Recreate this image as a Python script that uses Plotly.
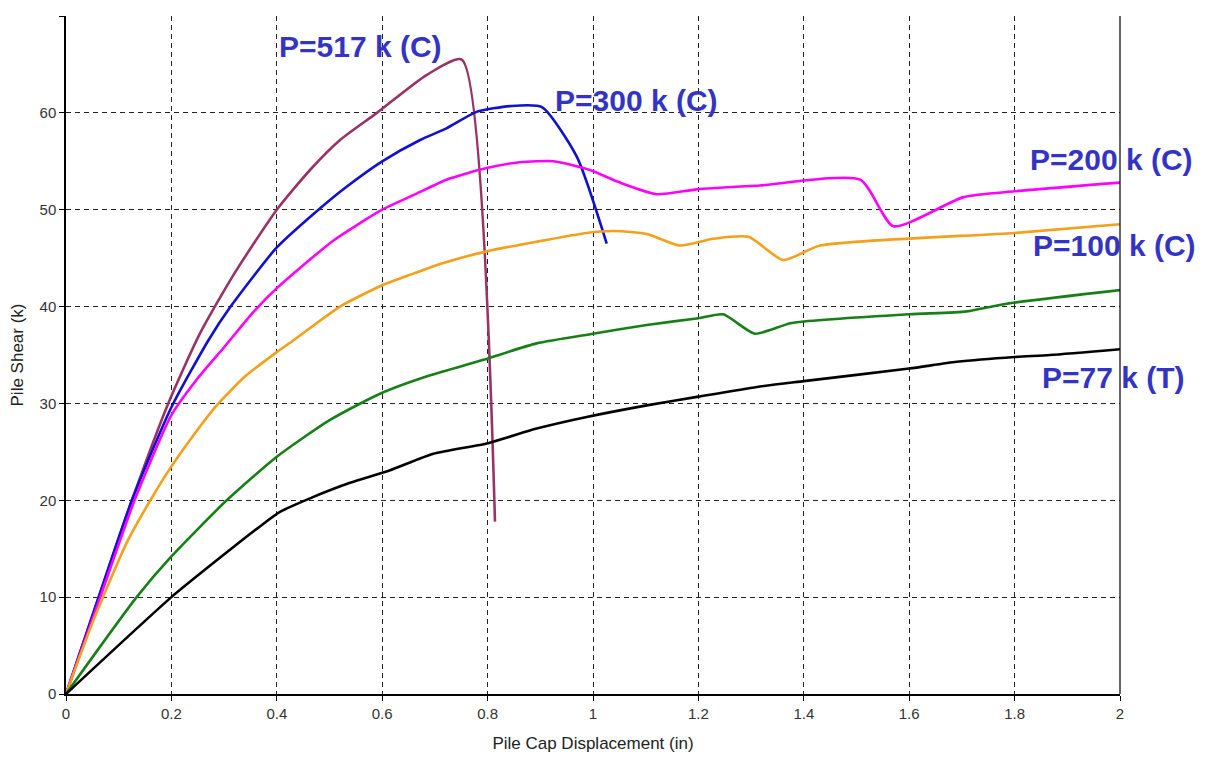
import plotly.graph_objects as go

# Pile cap displacement (in) / pile shear (k) for each axial load case
x_517 = [0, 0.062, 0.125, 0.194, 0.254, 0.317, 0.4, 0.463, 0.52, 0.59, 0.684, 0.751, 0.814]
y_517 = [0, 10, 20, 30, 37.2, 43.2, 50.0, 54.1, 57.2, 60.0, 63.9, 65.5, 17.8]

x_300 = [0, 0.062, 0.125, 0.2, 0.27, 0.311, 0.4, 0.479, 0.533, 0.6, 0.672, 0.722, 0.779, 0.843, 0.903, 0.969, 1.026]
y_300 = [0, 10, 20, 29.6, 36.5, 39.9, 46.1, 50.0, 52.4, 55.0, 57.2, 58.4, 60.1, 60.7, 60.6, 55.5, 46.5]

x_200 = [0, 0.065, 0.13, 0.2, 0.25, 0.3, 0.355, 0.4, 0.507, 0.6, 0.659, 0.722, 0.798, 0.861, 0.925, 0.994, 1.051, 1.121, 1.197, 1.317, 1.507, 1.57, 1.703, 1.8, 2.0]
y_200 = [0, 10, 20, 28.8, 32.6, 35.8, 39.4, 41.9, 46.8, 50.0, 51.5, 53.1, 54.3, 54.9, 55.0, 54.1, 52.8, 51.6, 52.1, 52.5, 53.1, 48.3, 51.3, 51.9, 52.8]

x_100 = [0, 0.052, 0.115, 0.159, 0.2, 0.243, 0.286, 0.34, 0.4, 0.431, 0.52, 0.6, 0.659, 0.71, 0.798, 0.893, 0.988, 1.039, 1.102, 1.165, 1.228, 1.295, 1.361, 1.431, 1.8, 2.0]
y_100 = [0, 7.6, 15.6, 19.9, 23.5, 26.8, 29.8, 32.8, 35.3, 36.5, 40.0, 42.2, 43.4, 44.4, 45.7, 46.7, 47.6, 47.8, 47.5, 46.3, 47.0, 47.2, 44.8, 46.3, 47.6, 48.5]

x_0 = [0, 0.134, 0.2, 0.305, 0.4, 0.501, 0.596, 0.691, 0.792, 0.893, 1.0, 1.102, 1.2, 1.247, 1.307, 1.377, 1.6, 1.709, 1.785, 2.0]
y_0 = [0, 10, 14.2, 20, 24.5, 28.3, 31.0, 32.9, 34.5, 36.2, 37.2, 38.1, 38.8, 39.2, 37.2, 38.3, 39.2, 39.5, 40.3, 41.7]

x_77t = [0, 0.2, 0.286, 0.368, 0.406, 0.463, 0.539, 0.615, 0.697, 0.801, 0.893, 0.988, 1.102, 1.2, 1.311, 1.4, 1.6, 1.69, 1.8, 1.867, 2.0]
y_77t = [0, 10, 13.8, 17.3, 18.8, 20.2, 21.8, 23.1, 24.8, 25.9, 27.4, 28.6, 29.8, 30.7, 31.7, 32.3, 33.6, 34.3, 34.8, 35.0, 35.6]

labels = ["P=517 k (C)", "P=300 k (C)", "P=200 k (C)", "P=100 k (C)", "P=0", "P=77 k (T)"]
label_x = [0.40, 0.924, 1.825, 1.831, 2.018, 1.848]
label_y = [66.8, 61.3, 55.2, 46.3, 40.2, 32.7]

x_ticks = [0, 0.2, 0.4, 0.6, 0.8, 1, 1.2, 1.4, 1.6, 1.8, 2]
x_tick_text = ["0", "0.2", "0.4", "0.6", "0.8", "1", "1.2", "1.4", "1.6", "1.8", "2"]
y_ticks = [0, 10, 20, 30, 40, 50, 60, 70]

series = [
    (x_517, y_517, "#993366"),
    (x_300, y_300, "#1010D0"),
    (x_200, y_200, "#FF00FF"),
    (x_100, y_100, "#F5A01A"),
    (x_0, y_0, "#168016"),
    (x_77t, y_77t, "#000000"),
]

fig = go.Figure()
for (xs, ys, col), name in zip(series, labels):
    fig.add_trace(go.Scatter(x=xs, y=ys, mode="lines", name=name,
                             line=dict(color=col, width=2.6, shape="spline", smoothing=0.6),
                             showlegend=False))

for t, lx, ly in zip(labels, label_x, label_y):
    fig.add_annotation(x=lx, y=ly, text="<b>" + t + "</b>", showarrow=False,
                       xanchor="left", yanchor="middle",
                       font=dict(family="Liberation Sans, Arial, sans-serif", size=30, color="#3434C4"),
                       xref="x", yref="y")

fig.add_shape(type="line", xref="paper", yref="paper", x0=1, x1=1, y0=0, y1=1,
              line=dict(color="black", width=1.2))

# the page body adds an 8px margin, so the figure is sized to fit the window
axis_font = dict(family="Liberation Sans, Arial, sans-serif", size=15, color="#333333")
fig.update_layout(
    width=1190, height=745,
    margin=dict(l=58, r=78, t=8, b=59),
    paper_bgcolor="white", plot_bgcolor="white",
    font=axis_font,
    xaxis=dict(range=[0, 2], tickvals=x_ticks, ticktext=x_tick_text, automargin=False,
               showgrid=True, gridcolor="#222222", griddash="5px,4px", gridwidth=1,
               zeroline=False, showline=True, linecolor="black", linewidth=1.5,
               ticks="outside", ticklen=5, tickcolor="black",
               title=dict(text="Pile Cap Displacement (in)", font=dict(size=17, color="#222222"), standoff=23)),
    yaxis=dict(range=[0, 70], tickvals=y_ticks, automargin=False,
               showgrid=True, gridcolor="#222222", griddash="5px,4px", gridwidth=1,
               zeroline=False, showline=True, linecolor="black", linewidth=1.5,
               ticks="outside", ticklen=5, tickcolor="black",
               title=dict(text="Pile Shear (k)", font=dict(size=17, color="#222222"), standoff=15)),
)

fig.write_html("out.html")
